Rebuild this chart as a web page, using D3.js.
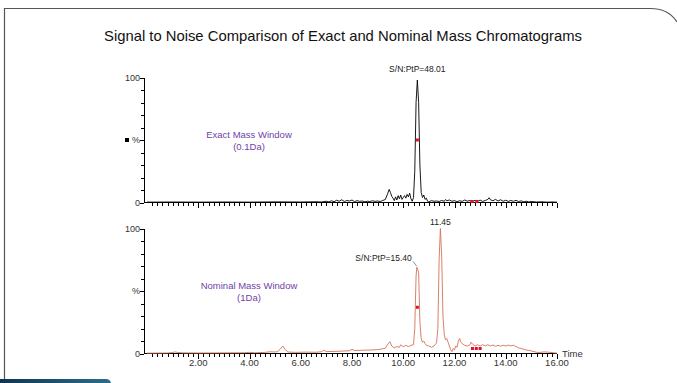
<!DOCTYPE html>
<html>
<head>
<meta charset="utf-8">
<script src="https://cdn.jsdelivr.net/npm/d3@7"></script>
<style>
  body { margin: 0; background: #fff; }
  svg { display: block; font-family: "Liberation Sans", Arial, sans-serif; }
  .axis path, .axis line { stroke: #000; shape-rendering: crispEdges; }
  .axis text { fill: #333; font-size: 9px; }
</style>
</head>
<body>
<script>
// chart title and panel captions
const chartTitle = "Signal to Noise Comparison of Exact and Nominal Mass Chromatograms";
const panelNames = [["Exact Mass Window", "(0.1Da)"], ["Nominal Mass Window", "(1Da)"]];

// x axis (retention time, min)
const timeTicks = ["2.00", "4.00", "6.00", "8.00", "10.00", "12.00", "14.00", "16.00"];

// exact mass trace [time, %]
const exactTrace = [
  [0,0.3],[1,0.4],[2,0.3],[3,0.4],[4,0.3],[5,0.5],[6,0.4],[6.6,0.6],[6.8,0.4],[7.0,1.0],
  [7.1,0.5],[7.2,1.4],[7.3,0.6],[7.4,1.8],[7.5,1.0],[7.6,2.2],[7.7,0.8],[7.8,1.6],[7.9,1.2],[8.0,2.0],
  [8.1,0.7],[8.2,1.5],[8.3,0.9],[8.4,1.2],[8.5,0.6],[8.6,1.0],[8.7,0.8],[8.8,1.4],[8.9,0.9],[9.0,1.2],
  [9.1,0.8],[9.2,1.6],[9.3,2.4],[9.4,7.5],[9.45,10.5],[9.5,8.0],[9.55,5.0],[9.6,3.5],[9.65,1.5],[9.7,4.5],
  [9.75,2.0],[9.8,5.5],[9.85,3.0],[9.9,6.0],[9.95,2.5],[10.0,4.0],[10.05,5.5],[10.1,3.5],[10.15,6.5],[10.2,4.5],
  [10.25,7.5],[10.3,3.0],[10.35,1.0],[10.4,4.0],[10.45,25],[10.5,80],[10.55,98],[10.6,80],[10.65,30],[10.7,8],
  [10.75,4],[10.8,6],[10.85,2.5],[10.9,3.5],[10.95,1.0],[11.0,0.5],[11.1,1.5],[11.2,1.0],[11.3,1.2],[11.4,0.8],
  [11.5,1.6],[11.6,1.0],[11.65,2.4],[11.7,1.4],[11.8,2.0],[11.9,1.0],[12.0,1.5],[12.1,0.7],[12.2,1.4],[12.3,0.9],
  [12.4,2.0],[12.5,1.1],[12.6,1.6],[12.7,0.8],[12.8,1.8],[12.9,1.0],[13.0,1.9],[13.1,0.9],[13.2,1.6],[13.3,2.5],
  [13.35,3.8],[13.4,2.2],[13.5,1.4],[13.6,2.5],[13.7,1.2],[13.8,2.2],[13.9,1.0],[14.0,1.8],[14.1,0.9],[14.2,1.6],
  [14.3,1.0],[14.4,1.7],[14.5,0.8],[14.6,1.3],[14.7,0.6],[14.8,1.0],[14.9,0.5],[15.0,0.8],[15.2,0.4],[15.4,0.6],
  [15.6,0.3],[15.8,0.4],[16.0,0.3]
];

// nominal mass trace [time, %]
const nominalTrace = [
  [0,0.3],[0.8,0.4],[1.0,0.8],[1.1,1.3],[1.2,0.8],[1.4,0.5],[2,0.4],[3,0.5],[3.8,0.6],[4.0,0.9],
  [4.2,0.6],[4.6,0.9],[4.8,1.4],[5.0,1.2],[5.1,1.6],[5.2,3.5],[5.3,6.0],[5.4,3.0],[5.5,1.2],[5.8,0.9],
  [6.2,1.1],[6.6,1.0],[6.8,1.4],[6.9,2.6],[7.0,1.5],[7.3,1.7],[7.6,1.9],[7.9,2.2],[8.0,3.4],[8.1,2.4],
  [8.4,2.6],[8.7,2.8],[9.0,3.1],[9.2,3.8],[9.3,4.2],[9.4,7.5],[9.48,9.5],[9.55,6],[9.65,4.5],[9.75,5.5],
  [9.85,5.0],[9.9,7.0],[9.95,6.0],[10.0,5.5],[10.1,6.5],[10.2,5.5],[10.3,6.5],[10.4,7.0],[10.45,20],[10.5,62],
  [10.53,69],[10.6,65],[10.65,25],[10.7,12],[10.75,9],[10.8,10],[10.85,8],[10.9,6.5],[11.0,6],[11.1,5],
  [11.2,6],[11.3,8.5],[11.35,20],[11.4,75],[11.45,100],[11.5,78],[11.55,30],[11.6,15],[11.65,11],[11.7,12],
  [11.75,9],[11.8,6],[11.85,3],[11.9,1.5],[11.95,4],[12.0,3],[12.05,6],[12.1,5],[12.15,10],[12.2,12],
  [12.25,9],[12.3,8],[12.4,6.5],[12.5,6],[12.6,7],[12.65,9],[12.7,7.5],[12.8,6],[12.9,7],[13.0,6],
  [13.1,7],[13.2,6.2],[13.3,7.0],[13.4,6.0],[13.5,6.8],[13.6,5.8],[13.7,6.5],[13.8,5.9],[13.9,6.6],[14.0,6.0],
  [14.1,6.7],[14.2,6.1],[14.3,6.6],[14.4,5.6],[14.5,4.5],[14.6,4.0],[14.7,3.5],[14.8,2.8],[14.9,2.5],[15.0,2.0],
  [15.1,1.5],[15.2,1.0],[15.3,0.8],[15.5,1.3],[15.7,1.0],[15.9,0.5],[16.0,0.3]
];

// integration markers [time, %]
const exactMarks = [[10.55, 50], [12.68, 0.8], [12.87, 0.8]];
const nominalMarks = [[10.55, 37], [12.7, 4], [12.85, 4], [13.0, 4]];

// peak annotations [time, %, text]
const exactLabels = [[10.55, 98, "S/N:PtP=48.01"]];
const nominalLabels = [[11.45, 100, "11.45"], [10.53, 69, "S/N:PtP=15.40"]];

const W = 677, H = 383;
const svg = d3.select("body").append("svg").attr("width", W).attr("height", H);

// frame
svg.append("path")
  .attr("d", "M4.5,383 L4.5,8.5 L650,8.5 C664,8.5 672,14 677,22")
  .attr("fill", "none").attr("stroke", "#555").attr("stroke-width", 1.2);

const grad = svg.append("defs").append("linearGradient").attr("id", "tab")
  .attr("x1", 0).attr("x2", 1).attr("y1", 0).attr("y2", 0);
grad.append("stop").attr("offset", 0).attr("stop-color", "#0f3550");
grad.append("stop").attr("offset", 1).attr("stop-color", "#2a6e8c");
svg.append("path")
  .attr("d", "M0,383 L0,379 L106,379 Q110,379 111,383 Z")
  .attr("fill", "url(#tab)");

svg.append("text")
  .attr("x", 343).attr("y", 41)
  .attr("text-anchor", "middle")
  .attr("font-size", 14.8).attr("fill", "#111")
  .text(chartTitle);

const x = d3.scaleLinear().domain([0, 16]).range([147, 557]);
const xStart = 144;

const panels = [
  { trace: exactTrace, marks: exactMarks, labels: exactLabels, names: panelNames[0],
    top: 77.5, bottom: 202.5, color: "#000", square: true, timeLabels: false },
  { trace: nominalTrace, marks: nominalMarks, labels: nominalLabels, names: panelNames[1],
    top: 228.5, bottom: 353.5, color: "#d4735a", square: false, timeLabels: true }
];

const minorTimes = d3.range(1, 81).map(i => i * 0.2);

panels.forEach(p => {
  const y = d3.scaleLinear().domain([0, 100]).range([p.bottom, p.top]);
  const g = svg.append("g");

  // y axis
  const yAxis = d3.axisLeft(y).tickValues(d3.range(0, 101, 10)).tickSize(3)
    .tickFormat(d => d === 0 ? "0" : d === 100 ? "100" : d === 50 ? "%" : "");
  const ya = g.append("g").attr("class", "axis").attr("transform", "translate(" + xStart + ",0)").call(yAxis);
  ya.select(".domain").remove();
  ya.selectAll(".tick text").attr("x", -4);
  ya.selectAll(".tick line").filter(d => d % 50 === 0).attr("x2", -4);
  g.append("line").attr("x1", xStart).attr("x2", xStart).attr("y1", p.top).attr("y2", p.bottom)
    .attr("stroke", "#000").attr("shape-rendering", "crispEdges");

  if (p.square) {
    g.append("rect").attr("x", 125).attr("y", y(50) - 2).attr("width", 4).attr("height", 4).attr("fill", "#000");
  }

  // x axis
  const xa = g.append("g").attr("class", "axis").attr("transform", "translate(0," + p.bottom + ")")
    .call(d3.axisBottom(x).tickValues(minorTimes).tickSize(3).tickFormat(""));
  xa.select(".domain").remove();
  xa.selectAll(".tick line").filter(d => Math.abs(d - Math.round(d)) < 1e-6 && Math.round(d) % 2 === 0).attr("y2", 5);
  g.append("line").attr("x1", xStart).attr("x2", x(16)).attr("y1", p.bottom).attr("y2", p.bottom)
    .attr("stroke", "#000").attr("stroke-width", 1.2);

  if (p.timeLabels) {
    g.selectAll(".tlab").data(timeTicks).join("text")
      .attr("x", d => x(+d)).attr("y", p.bottom + 12.5)
      .attr("text-anchor", "middle").attr("font-size", 9.5).attr("fill", "#333")
      .text(d => d);
    g.append("text").attr("x", x(16) + 5).attr("y", p.bottom + 3.5)
      .attr("font-size", 9.5).attr("fill", "#333").text("Time");
  }

  // trace
  const line = d3.line().x(d => x(d[0])).y(d => y(d[1]));
  g.append("path").datum(p.trace)
    .attr("d", line).attr("fill", "none")
    .attr("stroke", p.color).attr("stroke-width", 0.9).attr("stroke-linejoin", "round");

  // markers
  g.selectAll(".mk").data(p.marks).join("rect")
    .attr("x", d => x(d[0]) - 1.5).attr("y", d => y(d[1]) - 1.5)
    .attr("width", 3).attr("height", 3).attr("fill", "#e0102a");

  // panel caption
  const cap = g.append("text").attr("text-anchor", "middle").attr("font-size", 9.5).attr("fill", "#6f42a8");
  cap.append("tspan").attr("x", 249).attr("y", y(50) - 2).text(p.names[0]);
  cap.append("tspan").attr("x", 249).attr("y", y(50) + 9.5).text(p.names[1]);

  // peak labels
  p.labels.forEach((l, i) => {
    if (p.square || i === 0) {
      g.append("text").attr("x", x(l[0])).attr("y", y(l[1]) - (p.square ? 8 : 4))
        .attr("text-anchor", "middle").attr("font-size", 8.5).attr("fill", "#222").text(l[2]);
    } else {
      g.append("text").attr("x", x(l[0]) - 5).attr("y", y(l[1]) - 6)
        .attr("text-anchor", "end").attr("font-size", 8.5).attr("fill", "#222").text(l[2]);
      g.append("line").attr("x1", x(l[0]) - 4).attr("y1", y(l[1]) - 6)
        .attr("x2", x(l[0])).attr("y2", y(l[1]) - 1).attr("stroke", "#444").attr("stroke-width", 0.6);
    }
  });
});
</script>
</body>
</html>
